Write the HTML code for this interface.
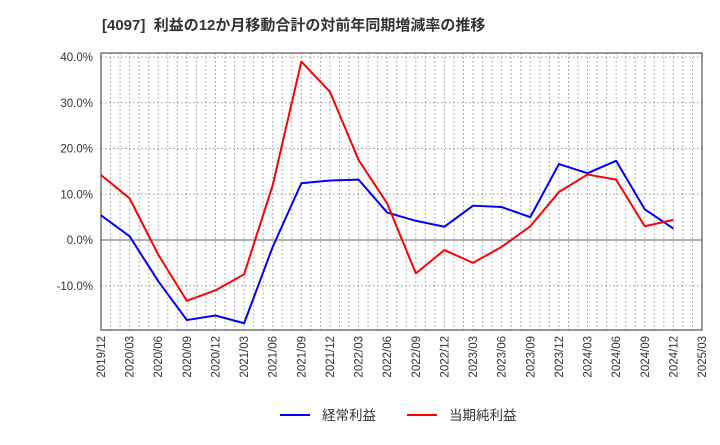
<!DOCTYPE html>
<html><head><meta charset="utf-8"><style>
body{margin:0;background:#fff;font-family:"Liberation Sans","Noto Sans CJK JP",sans-serif;}
</style></head><body>
<svg id="c" width="720" height="440" xmlns="http://www.w3.org/2000/svg" font-family="Liberation Sans, Noto Sans CJK JP, sans-serif">
<text x="102" y="30" font-size="15" font-weight="bold" fill="#333" xml:space="preserve">[4097]  利益の12か月移動合計の対前年同期増減率の推移</text>
<g id="grid"></g><g id="axes"></g><g id="series"></g>
<g>
<line x1="280" y1="415" x2="310" y2="415" stroke="#0000ff" stroke-width="2"/>
<text x="322" y="420" font-size="13.5" fill="#333">経常利益</text>
<line x1="407" y1="415" x2="437" y2="415" stroke="#ff0000" stroke-width="2"/>
<text x="449" y="420" font-size="13.5" fill="#333">当期純利益</text>
</g>
</svg>
<script>
const categories=["2019/12","2020/03","2020/06","2020/09","2020/12","2021/03","2021/06","2021/09","2021/12","2022/03","2022/06","2022/09","2022/12","2023/03","2023/06","2023/09","2023/12","2024/03","2024/06","2024/09","2024/12","2025/03"];
const ordinaryProfit=[5.4,0.8,-9,-17.5,-16.5,-18.2,-1.5,12.4,13.0,13.2,6.0,4.2,2.9,7.5,7.2,5.0,16.6,14.6,17.3,6.7,2.5];
const netProfit=[14.2,9.1,-3.2,-13.3,-11.0,-7.5,12.0,39.0,32.4,17.5,8.0,-7.3,-2.2,-5.0,-1.5,3.0,10.5,14.3,13.2,3.0,4.4];
const yTicks=[-10,0,10,20,30,40];
const L=101,R=702,T=53,B=330,Y0=240,PER10=45.75;
const NS="http://www.w3.org/2000/svg";
const x=i=>L+i*(R-L)/(categories.length-1);
const y=v=>Y0-v*PER10/10;
function mk(tag,attrs,parent){const e=document.createElementNS(NS,tag);for(const k in attrs)e.setAttribute(k,attrs[k]);document.getElementById(parent).appendChild(e);return e;}
for(let m=1;m<(categories.length-1)*3;m++){
 const xx=L+m*(R-L)/((categories.length-1)*3);
 const g=mk("line",{x1:xx,x2:xx,y1:T,y2:B,stroke:"#999","stroke-dasharray":"1.5,2.5","stroke-width":1},"grid");
 
 
}
yTicks.forEach(t=>{
 const yy=y(t);
 const g=mk("line",{x1:L,x2:R,y1:yy,y2:yy,stroke:t===0?"#666":"#999","stroke-dasharray":t===0?"none":"1.5,2.5","stroke-width":1},"grid");
 
 
 const tx=mk("text",{x:L-8,y:yy+4,"text-anchor":"end","font-size":"11.5",fill:"#333"},"axes");
 tx.textContent=t.toFixed(1)+"%";
 
 
});
const fr=mk("rect",{x:L,y:T,width:R-L,height:B-T,fill:"none",stroke:"#333","stroke-width":1},"axes");


categories.forEach((c,i)=>{
 const tx=mk("text",{x:0,y:0,"text-anchor":"end","font-size":"11.5",fill:"#333",transform:`translate(${x(i)+4},${B+6}) rotate(-90)`},"axes");
 tx.textContent=c;
 
 
});
function line(data,color,name){
 const p=mk("polyline",{points:data.map((v,i)=>x(i)+","+y(v)).join(" "),fill:"none",stroke:color,"stroke-width":2,"stroke-linejoin":"round"},"series");
 
 
}
line(ordinaryProfit,"#0000ff","ordinary-profit-line");
line(netProfit,"#ff0000","net-profit-line");
</script>
</body></html>
